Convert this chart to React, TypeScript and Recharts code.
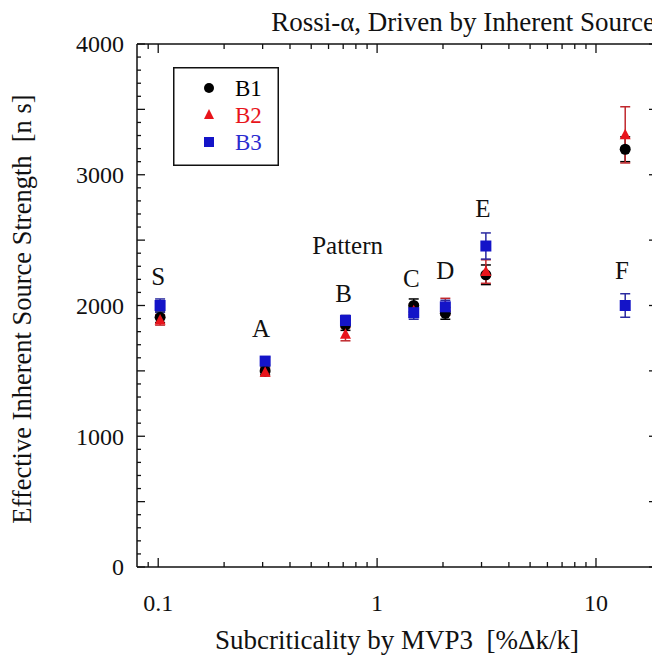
import React from "react";
import { ScatterChart, Scatter, XAxis, YAxis, ErrorBar, Legend } from "recharts";

const FONT = "'Liberation Serif', 'Times New Roman', serif";
const TXT = { fontFamily: FONT };

// pattern names and subcriticality [%dk/k]
const patterns = ["S", "A", "B", "C", "D", "E", "F"];
const subcriticality = [0.102, 0.308, 0.717, 1.47, 2.05, 3.14, 13.6];

// effective inherent source strength [n/s] and error bars
const b1Values = [1910, 1500, 1850, 2000, 1940, 2235, 3195];
const b1Errors = [40, 30, 40, 50, 45, 75, 95];
const b2Values = [1890, 1490, 1780, 1960, 1990, 2260, 3305];
const b2Errors = [40, 30, 50, 50, 65, 90, 215];
const b3Values = [2000, 1575, 1885, 1945, 1990, 2455, 2000];
const b3Errors = [50, 30, 40, 50, 50, 100, 90];

// annotation positions (data coords)
const labelX = [0.1, 0.295, 0.703, 1.434, 2.05, 3.04, 13.15];
const labelY = [2226, 1828, 2096, 2210, 2272, 2746, 2272];
const noteText = "Pattern";
const noteX = 0.733;
const noteY = 2463;

const xTicks = [0.09, 0.1, 0.2, 0.3, 0.4, 0.5, 0.6, 0.7, 0.8, 0.9, 1, 2, 3, 4, 5, 6, 7, 8, 9, 10];
const xLabelTicks = [0.1, 1, 10];
const yTicks = Array.from({ length: 41 }, (_, i) => i * 100);

const BLACK = "#000000";
const RED = "#e8141b";
const RED_BAR = "#c0282d";
const BLUE = "#1414c8";
const BLUE_BAR = "#2a2aa0";
const AXIS = "#111";

const Circle = (p: any) => <circle cx={p.cx} cy={p.cy} r={5.5} fill={BLACK} />;
const Triangle = (p: any) => (
  <polygon points={`${p.cx},${p.cy - 6} ${p.cx + 5.5},${p.cy + 4.5} ${p.cx - 5.5},${p.cy + 4.5}`} fill={RED} />
);
const Square = (p: any) => <rect x={p.cx - 5.5} y={p.cy - 5.5} width={11} height={11} fill={BLUE} />;
const TextMark = (p: any) => (
  <text x={p.cx} y={p.cy} dy="0.35em" textAnchor="middle" style={TXT} fontSize={25} fill="#111">
    {p.payload.name}
  </text>
);

const BottomTick = ({ x, y, payload }: any) => {
  const major = xLabelTicks.includes(payload.value);
  return (
    <g>
      <line x1={x} y1={y} x2={x} y2={y - (major ? 9 : 5)} stroke={AXIS} strokeWidth={1.3} />
      {major && (
        <text x={x} y={y + 36} dy="0.35em" textAnchor="middle" style={TXT} fontSize={24} fill="#111">
          {payload.value}
        </text>
      )}
    </g>
  );
};

const TopTick = ({ x, y, payload }: any) => {
  const major = xLabelTicks.includes(payload.value);
  return <line x1={x} y1={y} x2={x} y2={y + (major ? 9 : 5)} stroke={AXIS} strokeWidth={1.3} />;
};

const LeftTick = ({ x, y, payload }: any) => {
  const v = payload.value;
  const len = v % 500 === 0 ? 8 : 4;
  return (
    <g>
      <line x1={x} y1={y} x2={x + len} y2={y} stroke={AXIS} strokeWidth={1.3} />
      {v % 1000 === 0 && (
        <text x={x - 13} y={y} dy="0.35em" textAnchor="end" style={TXT} fontSize={24} fill="#111">
          {v}
        </text>
      )}
    </g>
  );
};

const RightTick = ({ x, y, payload }: any) => {
  const len = payload.value % 500 === 0 ? 8 : 4;
  return <line x1={x} y1={y} x2={x - len} y2={y} stroke={AXIS} strokeWidth={1.3} />;
};

const legendItems = [
  { name: "B1", color: BLACK },
  { name: "B2", color: RED },
  { name: "B3", color: "#2b2bd0" },
];

const LegendBox = () => (
  <svg width={106} height={99} style={{ display: "block" }}>
    <rect x={0.75} y={0.75} width={104.5} height={97.5} fill="#fff" stroke="#111" strokeWidth={1.5} />
    {legendItems.map((it, i) => {
      const cy = 21 + i * 27;
      return (
        <g key={it.name}>
          {i === 0 && <circle cx={36} cy={cy} r={5} fill={BLACK} />}
          {i === 1 && <polygon points={`36,${cy - 6} 41,${cy + 4} 31,${cy + 4}`} fill={RED} />}
          {i === 2 && <rect x={31} y={cy - 5} width={10} height={10} fill={BLUE} />}
          <text x={62} y={cy} dy="0.35em" style={TXT} fontSize={23} fill={it.color}>
            {it.name}
          </text>
        </g>
      );
    })}
  </svg>
);

export default function App() {
  const b1 = subcriticality.map((x, i) => ({ x, y: b1Values[i], err: b1Errors[i] }));
  const b2 = subcriticality.map((x, i) => ({ x, y: b2Values[i], err: b2Errors[i] }));
  const b3 = subcriticality.map((x, i) => ({ x, y: b3Values[i], err: b3Errors[i] }));
  const labels = patterns.map((name, i) => ({ x: labelX[i], y: labelY[i], name }));
  labels.push({ x: noteX, y: noteY, name: noteText });

  return (
    <div style={{ width: 652, height: 648, position: "relative", fontFamily: FONT }}>
      <ScatterChart width={652} height={648} margin={{ top: 35, right: 2, bottom: 0, left: 0 }}>
        <XAxis
          xAxisId="b"
          dataKey="x"
          type="number"
          scale="log"
          domain={[0.08, 19]}
          allowDataOverflow
          ticks={xTicks}
          interval={0}
          tick={BottomTick}
          tickLine={false}
          tickSize={0}
          tickMargin={0}
          height={89}
          axisLine={{ stroke: AXIS, strokeWidth: 1.5 }}
          label={() => (
            <text x={389} y={632} dy="0.35em" textAnchor="middle" style={TXT} fontSize={27} fill="#111">
              Subcriticality by MVP3{"\u00a0\u00a0"}[%Δk/k]
            </text>
          )}
        />
        <XAxis
          xAxisId="t"
          dataKey="x"
          orientation="top"
          type="number"
          scale="log"
          domain={[0.08, 19]}
          allowDataOverflow
          ticks={xTicks}
          interval={0}
          tick={TopTick}
          tickLine={false}
          tickSize={0}
          tickMargin={0}
          height={1}
          axisLine={{ stroke: AXIS, strokeWidth: 1.5 }}
          label={() => (
            <text x={647} y={14} dy="0.35em" textAnchor="end" style={TXT} fontSize={27} fill="#111">
              Rossi-α, Driven by Inherent Source
            </text>
          )}
        />
        <YAxis
          yAxisId="l"
          dataKey="y"
          type="number"
          domain={[0, 4000]}
          allowDataOverflow
          ticks={yTicks}
          interval={0}
          tick={LeftTick}
          tickLine={false}
          tickSize={0}
          tickMargin={0}
          width={129}
          axisLine={{ stroke: AXIS, strokeWidth: 1.5 }}
          label={() => (
            <text
              x={14}
              y={301}
              dy="0.35em"
              textAnchor="middle"
              transform="rotate(-90 14 301)"
              style={TXT}
              fontSize={26.5}
              fill="#111"
            >
              Effective Inherent Source Strength{"\u00a0\u00a0"}[n s]
            </text>
          )}
        />
        <YAxis
          yAxisId="r"
          dataKey="y"
          orientation="right"
          type="number"
          domain={[0, 4000]}
          allowDataOverflow
          ticks={yTicks}
          interval={0}
          tick={RightTick}
          tickLine={false}
          tickSize={0}
          tickMargin={0}
          width={1}
          axisLine={{ stroke: AXIS, strokeWidth: 1.5 }}
        />
        <Legend
          layout="vertical"
          align="center"
          verticalAlign="middle"
          wrapperStyle={{ left: 165, top: 59, width: 106, height: 99 }}
          content={LegendBox}
        />
        <Scatter xAxisId="b" yAxisId="l" name="B1" data={b1} shape={Circle} isAnimationActive={false}>
          <ErrorBar dataKey="err" direction="y" width={5} stroke={BLACK} strokeWidth={1.5} />
        </Scatter>
        <Scatter xAxisId="b" yAxisId="l" name="B2" data={b2} shape={Triangle} isAnimationActive={false}>
          <ErrorBar dataKey="err" direction="y" width={5} stroke={RED_BAR} strokeWidth={1.5} />
        </Scatter>
        <Scatter xAxisId="b" yAxisId="l" name="B3" data={b3} shape={Square} isAnimationActive={false}>
          <ErrorBar dataKey="err" direction="y" width={5} stroke={BLUE_BAR} strokeWidth={1.5} />
        </Scatter>
        <Scatter
          xAxisId="t"
          yAxisId="r"
          name="labels"
          data={labels}
          shape={TextMark}
          legendType="none"
          isAnimationActive={false}
        />
      </ScatterChart>
    </div>
  );
}
